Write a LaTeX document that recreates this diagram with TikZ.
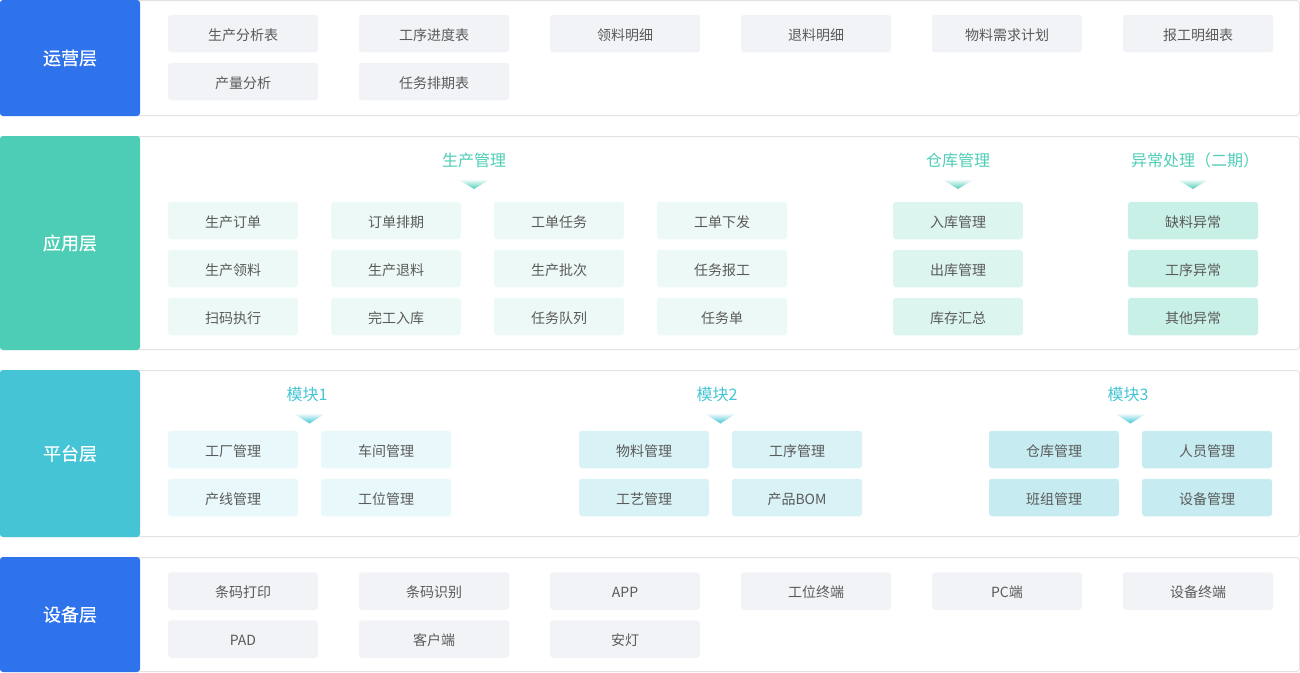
\documentclass[tikz,border=0pt]{standalone}
\usepackage{fontspec}
\setmainfont{Noto Sans CJK SC}
\newfontfamily\bandfont[FakeBold=0.4]{Noto Sans CJK SC}
\usepackage{tikz}
\definecolor{layerblue}{HTML}{2F73EC}
\definecolor{layerteal}{HTML}{4ECDB6}
\definecolor{layercyan}{HTML}{44C4D4}
\definecolor{panelline}{HTML}{E2E2E2}
\definecolor{itemgray}{HTML}{F2F3F7}
\definecolor{itemtext}{HTML}{5A5A5A}
\definecolor{prodfill}{HTML}{EDF9F6}
\definecolor{storefill}{HTML}{DCF5EF}
\definecolor{errfill}{HTML}{C9F0E6}
\definecolor{modafill}{HTML}{E9F8FA}
\definecolor{modbfill}{HTML}{D8F2F6}
\definecolor{modcfill}{HTML}{C6ECF1}

\begin{document}
\begin{tikzpicture}[x=1pt, y=-1pt,
    band/.style={fill=#1, text=white, rounded corners=3pt, minimum width=140pt, inner sep=0pt,
      font=\bandfont\fontsize{18pt}{20pt}\selectfont},
    item/.style={fill=#1, text=itemtext, rounded corners=3pt, minimum height=37.5pt, inner sep=0pt,
      text height=14pt, text depth=1pt, font=\fontsize{14pt}{16pt}\selectfont},
    wideitem/.style={item=itemgray, minimum width=150pt},
    smallitem/.style={item=#1, minimum width=130pt},
    grouptitle/.style={text=#1, inner sep=0pt, font=\fontsize{16pt}{18pt}\selectfont}]
    \useasboundingbox (0,0) rectangle (1300,672);

    % panels
    \draw[panelline, line width=1pt, rounded corners=3pt] (0,0.5) rectangle (1299.5,115.5);
    \draw[panelline, line width=1pt, rounded corners=3pt] (0,136.5) rectangle (1299.5,349.5);
    \draw[panelline, line width=1pt, rounded corners=3pt] (0,370.5) rectangle (1299.5,536.5);
    \draw[panelline, line width=1pt, rounded corners=3pt] (0,557.5) rectangle (1299.5,671.5);

    \node[band=layerblue, minimum height=116pt] (ops) at (70,58) {运营层};
    \node[band=layerteal, minimum height=214pt] (app) at (70,243) {应用层};
    \node[band=layercyan, minimum height=167pt] (plat) at (70,453.5) {平台层};
    \node[band=layerblue, minimum height=115pt] (dev) at (70,614.5) {设备层};

    % operations
    \node[wideitem] (prodreport) at (243,33.5) {生产分析表};
    \node[wideitem] (stepreport) at (434,33.5) {工序进度表};
    \node[wideitem] (pickdetail) at (625,33.5) {领料明细};
    \node[wideitem] (returndetail) at (816,33.5) {退料明细};
    \node[wideitem] (mrpplan) at (1007,33.5) {物料需求计划};
    \node[wideitem] (workreport) at (1198,33.5) {报工明细表};
    \node[wideitem] (outputstat) at (243,81.5) {产量分析};
    \node[wideitem] (taskplan) at (434,81.5) {任务排期表};

    % application
    \node[grouptitle=layerteal] (prodtitle) at (474,160.5) {生产管理};
    \node[grouptitle=layerteal] (storetitle) at (958,160.5) {仓库管理};
    \node[grouptitle=layerteal] (errtitle) at (1195,160.5) {异常处理（二期）};
    \shade[top color=white, bottom color=layerteal] (457.5,179) -- (490.5,179) -- (474,189) -- cycle;
    \shade[top color=white, bottom color=layerteal] (941.5,179) -- (974.5,179) -- (958,189) -- cycle;
    \shade[top color=white, bottom color=layerteal] (1176.5,179) -- (1209.5,179) -- (1193,189) -- cycle;

    \node[smallitem=prodfill] (prodorder) at (233,220.5) {生产订单};
    \node[smallitem=prodfill] (ordersched) at (396,220.5) {订单排期};
    \node[smallitem=prodfill] (worktask) at (559,220.5) {工单任务};
    \node[smallitem=prodfill] (workissue) at (722,220.5) {工单下发};
    \node[smallitem=prodfill] (prodpick) at (233,268.5) {生产领料};
    \node[smallitem=prodfill] (prodreturn) at (396,268.5) {生产退料};
    \node[smallitem=prodfill] (prodbatch) at (559,268.5) {生产批次};
    \node[smallitem=prodfill] (taskreport) at (722,268.5) {任务报工};
    \node[smallitem=prodfill] (scanrun) at (233,316.5) {扫码执行};
    \node[smallitem=prodfill] (finishin) at (396,316.5) {完工入库};
    \node[smallitem=prodfill] (taskqueue) at (559,316.5) {任务队列};
    \node[smallitem=prodfill] (tasksheet) at (722,316.5) {任务单};

    \node[smallitem=storefill] (stockin) at (958,220.5) {入库管理};
    \node[smallitem=storefill] (stockout) at (958,268.5) {出库管理};
    \node[smallitem=storefill] (stocksum) at (958,316.5) {库存汇总};

    \node[smallitem=errfill] (lackerr) at (1193,220.5) {缺料异常};
    \node[smallitem=errfill] (steperr) at (1193,268.5) {工序异常};
    \node[smallitem=errfill] (othererr) at (1193,316.5) {其他异常};

    % platform
    \node[grouptitle=layercyan] (modatitle) at (307,394) {模块1};
    \node[grouptitle=layercyan] (modbtitle) at (717,394) {模块2};
    \node[grouptitle=layercyan] (modctitle) at (1128,394) {模块3};
    \shade[top color=white, bottom color=layercyan] (293,413) -- (326,413) -- (309.5,423.5) -- cycle;
    \shade[top color=white, bottom color=layercyan] (704,413) -- (737,413) -- (720.5,423.5) -- cycle;
    \shade[top color=white, bottom color=layercyan] (1114,413) -- (1147,413) -- (1130.5,423.5) -- cycle;

    \node[smallitem=modafill] (factory) at (233,449.5) {工厂管理};
    \node[smallitem=modafill] (workshop) at (386,449.5) {车间管理};
    \node[smallitem=modafill] (line) at (233,497.5) {产线管理};
    \node[smallitem=modafill] (station) at (386,497.5) {工位管理};

    \node[smallitem=modbfill] (material) at (644,449.5) {物料管理};
    \node[smallitem=modbfill] (process) at (797,449.5) {工序管理};
    \node[smallitem=modbfill] (craft) at (644,497.5) {工艺管理};
    \node[smallitem=modbfill] (bom) at (797,497.5) {产品BOM};

    \node[smallitem=modcfill] (store) at (1054,449.5) {仓库管理};
    \node[smallitem=modcfill] (staff) at (1207,449.5) {人员管理};
    \node[smallitem=modcfill] (team) at (1054,497.5) {班组管理};
    \node[smallitem=modcfill] (equip) at (1207,497.5) {设备管理};

    % devices
    \node[wideitem] (codeprint) at (243,591) {条码打印};
    \node[wideitem] (codescan) at (434,591) {条码识别};
    \node[wideitem] (mobileapp) at (625,591) {APP};
    \node[wideitem] (stationterm) at (816,591) {工位终端};
    \node[wideitem] (pcclient) at (1007,591) {PC端};
    \node[wideitem] (equipterm) at (1198,591) {设备终端};
    \node[wideitem] (pad) at (243,639) {PAD};
    \node[wideitem] (client) at (434,639) {客户端};
    \node[wideitem] (andon) at (625,639) {安灯};
\end{tikzpicture}
\end{document}
